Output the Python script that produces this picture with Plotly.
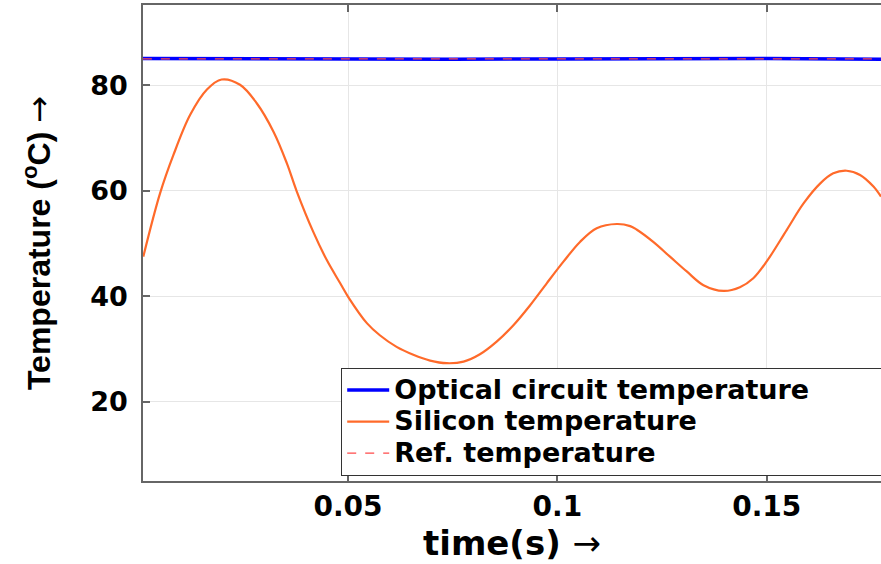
import plotly.graph_objects as go

# ---- data ----
t_silicon = [0.0011, 0.0051, 0.0083, 0.0123, 0.0163, 0.0198, 0.0242, 0.0282, 0.0322,
             0.0354, 0.0377, 0.0417, 0.0449, 0.0481, 0.0501, 0.0545, 0.0576, 0.0616,
             0.0656, 0.0696, 0.0736, 0.0776, 0.0815, 0.0855, 0.0895, 0.0935, 0.0975,
             0.1015, 0.1054, 0.1094, 0.1142, 0.1174, 0.1190, 0.1229, 0.1269, 0.1309,
             0.1349, 0.1397, 0.1436, 0.1468, 0.1500, 0.1548, 0.1588, 0.1628, 0.1659,
             0.1691, 0.1723, 0.1755, 0.1773]
silicon_temp = [47.5, 59.5, 66.8, 74.4, 79.2, 81.1, 80.1, 76.6, 71.2,
                65.2, 60.0, 52.2, 46.9, 42.5, 39.8, 34.9, 32.6, 30.4,
                28.9, 27.8, 27.3, 27.6, 29.0, 31.4, 34.5, 38.3, 42.5,
                46.6, 50.3, 52.9, 53.7, 53.3, 52.6, 50.3, 47.5, 44.7,
                42.1, 41.0, 41.7, 43.4, 46.6, 52.6, 57.6, 61.4, 63.3,
                63.8, 63.0, 60.8, 58.9]

t_optical = [0.0010, 0.0250, 0.0500, 0.0750, 0.1000, 0.1250, 0.1500, 0.1773]
optical_temp = [85.1, 85.0, 84.95, 84.95, 85.0, 85.05, 85.1, 84.95]

t_ref = [0.0010, 0.1773]
ref_temp = [85.0, 85.0]

x_ticks = [0.05, 0.1, 0.15]
x_tick_labels = ["0.05", "0.1", "0.15"]
y_ticks = [20, 40, 60, 80]
y_tick_labels = ["20", "40", "60", "80"]

LEG = "<span style='font-size:27px'>{}</span>"
ARROW = "<span style='font-family:DejaVu Sans;font-weight:normal'>→</span>"
PAD = "\u00a0" * 7

fig = go.Figure()
fig.add_trace(go.Scatter(x=t_optical, y=optical_temp, mode="lines",
                         name=LEG.format("Optical circuit temperature" + PAD),
                         line=dict(color="#0000ff", width=3.5)))
fig.add_trace(go.Scatter(x=t_silicon, y=silicon_temp, mode="lines",
                         name=LEG.format("Silicon temperature"),
                         line=dict(color="#ff6a2a", width=2.2, shape="spline", smoothing=1.0)))
fig.add_trace(go.Scatter(x=t_ref, y=ref_temp, mode="lines",
                         name=LEG.format("Ref. temperature"),
                         line=dict(color="#ff4a4a", width=1.2, dash="dash")))

axis_line = "#666666"
grid = "#e6e6e6"

fig.update_layout(
    width=881, height=564,
    margin=dict(l=143, r=0, t=5, b=83, autoexpand=False),
    plot_bgcolor="white", paper_bgcolor="white",
    font=dict(family="DejaVu Sans", color="black"),
    showlegend=True,
    legend=dict(
        x=0.2683, y=0.0105, xanchor="left", yanchor="bottom",
        bgcolor="white", bordercolor="#333333", borderwidth=1.2,
        font=dict(family="DejaVu Sans", size=22, weight="bold", color="black"),
        itemwidth=42, tracegroupgap=0,
    ),
    xaxis=dict(
        range=[0.00103, 0.1773],
        tickvals=x_ticks, ticktext=x_tick_labels,
        ticks="inside", ticklen=7, tickwidth=1.5, tickcolor=axis_line,
        showline=True, linecolor=axis_line, linewidth=1.5, mirror="ticks",
        showgrid=True, gridcolor=grid, gridwidth=1, zeroline=False,
        tickfont=dict(family="DejaVu Sans", size=28, weight="bold", color="black"),
        ticklabelstandoff=0,
        title=dict(text="time(s) " + ARROW, standoff=4,
                   font=dict(family="DejaVu Sans", size=34, weight="bold", color="black")),
    ),
    yaxis=dict(
        range=[4.96, 95.23],
        tickvals=y_ticks, ticktext=y_tick_labels,
        ticks="inside", ticklen=7, tickwidth=1.5, tickcolor=axis_line,
        showline=True, linecolor=axis_line, linewidth=1.5, mirror=False,
        showgrid=True, gridcolor=grid, gridwidth=1, zeroline=False,
        tickfont=dict(family="DejaVu Sans", size=27, weight="bold", color="black"),
        ticklabelstandoff=8,
        title=dict(text="Temperature (<sup>o</sup>C) " + ARROW, standoff=30,
                   font=dict(family="Liberation Sans", size=32, weight="bold", color="black")),
    ),
)

fig.write_html("out.html")
